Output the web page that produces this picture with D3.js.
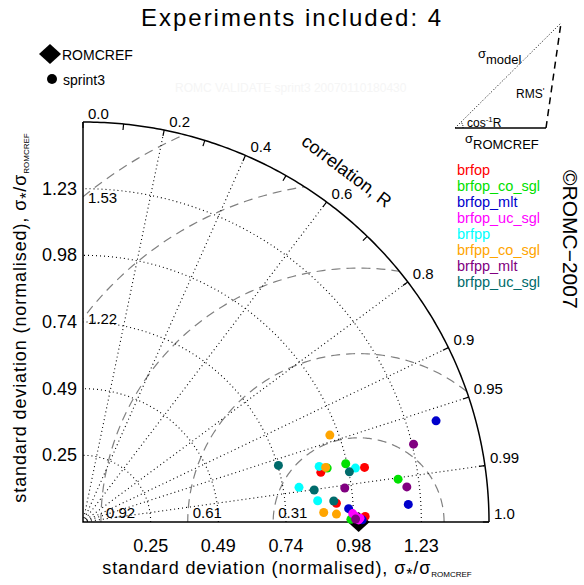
<!DOCTYPE html>
<html>
<head>
<meta charset="utf-8">
<script src="https://cdn.jsdelivr.net/npm/d3@7"></script>
<style>
  body { margin: 0; background: #fff; }
  text { font-family: "Liberation Sans", Arial, sans-serif; fill: #000; }
</style>
</head>
<body>
<div id="chart"></div>
<script>
// Series and their colours
var seriesNames = ["brfop", "brfop_co_sgl", "brfop_mlt", "brfop_uc_sgl", "brfpp", "brfpp_co_sgl", "brfpp_mlt", "brfpp_uc_sgl"];
var seriesColors = ["#ff0000", "#00e000", "#0000cc", "#ff00ff", "#00ffff", "#ffa500", "#800080", "#006b6b"];

// Normalised standard deviation of each experiment, per series
var stdValues = [
  [0.882, 1.041, 0.922, 1.024],
  [0.908, 0.977, 1.154, 0.972],
  [1.334, 1.182, 0.965, 1.013],
  [0.979, 1.000, 0.990, 1.005],
  [0.881, 1.008, 0.794, 0.855],
  [0.951, 0.903, 0.874, 0.920],
  [1.233, 1.182, 0.958, 0.989],
  [0.739, 0.984, 0.847, 0.913]
];
// Correlation with ROMCREF, per series
var corrValues = [
  [0.9783, 0.9812, 0.9972, 0.9998],
  [0.9758, 0.9756, 0.9906, 0.99995],
  [0.9602, 0.9985, 0.9987, 0.99997],
  [0.9995, 0.99997, 0.9998, 0.9999],
  [0.9726, 0.9804, 0.9870, 0.9958],
  [0.9417, 0.9749, 0.9992, 0.9995],
  [0.9726, 0.9940, 0.9914, 0.99994],
  [0.9594, 0.9822, 0.9903, 0.9964]
];

// Axis ticks
var stdTicks = [0.2455, 0.491, 0.7365, 0.982, 1.2275];
var stdTickLabels = ["0.25", "0.49", "0.74", "0.98", "1.23"];
var corrTicks = [0.0, 0.2, 0.4, 0.6, 0.8, 0.9, 0.95, 0.99, 1.0];
var corrTickLabels = ["0.0", "0.2", "0.4", "0.6", "0.8", "0.9", "0.95", "0.99", "1.0"];
var corrMinor = [0.1, 0.3, 0.5, 0.7];
// RMS circles as drawn, and their labels
var rmsValues = [0.31, 0.62, 0.935, 1.25, 1.56];
var rmsLabels = ["0.31", "0.61", "0.92", "1.22", "1.53"];
var refStd = 1.0;
var stdMax = 1.473;

var width = 584, height = 585;

var svg = d3.select("#chart")
  .append("svg")
  .attr("width", width)
  .attr("height", height);

// Scales (plot origin sits at bottom left of the quadrant)
var xScale = d3.scaleLinear().domain([0, stdMax]).range([83, 489]);
var yScale = d3.scaleLinear().domain([0, stdMax]).range([522, 122]);

function polar(s, r) {
  var a = Math.acos(r);
  return [s * Math.cos(a), s * Math.sin(a)];
}
function arcPoints(cx, rad, a0, a1) {
  var pts = [];
  for (var i = 0; i <= 180; i++) {
    var a = a0 + (a1 - a0) * i / 180;
    pts.push([cx + rad * Math.cos(a), rad * Math.sin(a)]);
  }
  return pts;
}
var line = d3.line()
  .x(function(d) { return xScale(d[0]); })
  .y(function(d) { return yScale(d[1]); });

// Clip to the quadrant
var sector = [[0, 0]].concat(arcPoints(0, stdMax, 0, Math.PI / 2));
svg.append("clipPath").attr("id", "quad")
  .append("path").attr("d", line(sector) + "Z");

var grid = svg.append("g").attr("clip-path", "url(#quad)");

// RMS difference circles round the reference
grid.selectAll("path.rms")
  .data(rmsValues)
  .enter()
  .append("path")
  .attr("class", "rms")
  .attr("d", function(d) { return line(arcPoints(refStd, d, 0, Math.PI)); })
  .style("fill", "none")
  .style("stroke", "#808080")
  .style("stroke-width", 1.2)
  .style("stroke-dasharray", "9,6");

// Standard deviation arcs
grid.selectAll("path.sd")
  .data(stdTicks)
  .enter()
  .append("path")
  .attr("class", "sd")
  .attr("d", function(d) { return line(arcPoints(0, d, 0, Math.PI / 2)); })
  .style("fill", "none")
  .style("stroke", "#000")
  .style("stroke-width", 1.1)
  .style("stroke-dasharray", "1,3");

// Correlation rays
grid.selectAll("path.ray")
  .data(corrTicks.filter(function(d) { return d > 0 && d < 1; }))
  .enter()
  .append("path")
  .attr("class", "ray")
  .attr("d", function(d) { return line([[0, 0], polar(stdMax, d)]); })
  .style("fill", "none")
  .style("stroke", "#000")
  .style("stroke-width", 1.1)
  .style("stroke-dasharray", "1,3");

// Axes and outer arc
svg.append("path")
  .attr("d", line([[0, stdMax], [0, 0], [stdMax, 0]]))
  .style("fill", "none").style("stroke", "#000").style("stroke-width", 1.5);
svg.append("path")
  .attr("d", line(arcPoints(0, stdMax, 0, Math.PI / 2)))
  .style("fill", "none").style("stroke", "#000").style("stroke-width", 1.5);

// Ticks on the outer arc
svg.selectAll("path.ctick")
  .data(corrTicks.concat(corrMinor))
  .enter()
  .append("path")
  .attr("class", "ctick")
  .attr("d", function(d) { return line([polar(stdMax, d), polar(stdMax * 0.985, d)]); })
  .style("stroke", "#000").style("stroke-width", 1.2);

svg.selectAll("text.clab")
  .data(corrTicks)
  .enter()
  .append("text")
  .attr("class", "clab")
  .attr("x", function(d) { return xScale(polar(stdMax, d)[0]) + 5; })
  .attr("y", function(d) { return yScale(polar(stdMax, d)[1]) - 3; })
  .style("font-size", "15px")
  .text(function(d, i) { return corrTickLabels[i]; });

// Standard deviation tick labels
svg.selectAll("text.xlab")
  .data(stdTicks)
  .enter()
  .append("text")
  .attr("x", function(d) { return xScale(d); })
  .attr("y", 552)
  .attr("text-anchor", "middle")
  .style("font-size", "18px")
  .text(function(d, i) { return stdTickLabels[i]; });

svg.selectAll("text.ylab")
  .data(stdTicks)
  .enter()
  .append("text")
  .attr("x", 77)
  .attr("y", function(d) { return yScale(d) + 6; })
  .attr("text-anchor", "end")
  .style("font-size", "18px")
  .text(function(d, i) { return stdTickLabels[i]; });

// RMS labels: along the bottom, or on the left axis for the big ones
svg.selectAll("text.rlab")
  .data(rmsValues)
  .enter()
  .append("text")
  .attr("x", function(d) {
    if (d < refStd) return xScale(refStd - d) + 5;
    return xScale(0) + 5;
  })
  .attr("y", function(d) {
    if (d < refStd) return yScale(0) - 4;
    return yScale(Math.sqrt(d * d - refStd * refStd)) + 6;
  })
  .style("font-size", "15px")
  .text(function(d, i) { return rmsLabels[i]; });

// Reference diamond
var diamond = "M0,-10L11,0L0,10L-11,0Z";
svg.append("path")
  .attr("d", diamond)
  .attr("transform", "translate(" + xScale(refStd) + "," + yScale(0) + ")")
  .style("fill", "#000");

// Experiments
seriesNames.forEach(function(name, si) {
  svg.selectAll("circle.s" + si)
    .data(stdValues[si].map(function(s, j) { return polar(s, corrValues[si][j]); }))
    .enter()
    .append("circle")
    .attr("class", "s" + si)
    .attr("cx", function(d) { return xScale(d[0]); })
    .attr("cy", function(d) { return yScale(d[1]); })
    .attr("r", 4.5)
    .style("fill", seriesColors[si]);
});

// Axis titles
var xt = svg.append("text")
  .attr("x", 287).attr("y", 574)
  .attr("text-anchor", "middle")
  .style("font-size", "18px")
  .style("letter-spacing", "0.9px");
xt.append("tspan").text("standard deviation (normalised), σ");
xt.append("tspan").attr("dy", 6).style("font-size", "16px").text("*");
xt.append("tspan").attr("dy", -6).text("/σ");
xt.append("tspan").attr("dy", 3).style("font-size", "8px").style("letter-spacing", "0px").text("ROMCREF");

var yt = svg.append("text")
  .attr("transform", "translate(26,318) rotate(-90)")
  .attr("text-anchor", "middle")
  .style("font-size", "18px")
  .style("letter-spacing", "0.9px");
yt.append("tspan").text("standard deviation (normalised), σ");
yt.append("tspan").attr("dy", 6).style("font-size", "16px").text("*");
yt.append("tspan").attr("dy", -6).text("/σ");
yt.append("tspan").attr("dy", 3).style("font-size", "8px").style("letter-spacing", "0px").text("ROMCREF");

svg.append("text")
  .attr("transform", "translate(343,176) rotate(37)")
  .attr("text-anchor", "middle")
  .style("font-size", "18px")
  .text("correlation, R");

// Title
svg.append("text")
  .attr("x", 292).attr("y", 26)
  .attr("text-anchor", "middle")
  .style("font-size", "24px")
  .style("letter-spacing", "2px")
  .text("Experiments included: 4");

svg.append("text")
  .attr("x", 175).attr("y", 92)
  .style("font-size", "12px")
  .style("fill", "#f5f5f5")
  .text("ROMC VALIDATE sprint3 20070110180430");

// Top-left legend
svg.append("path").attr("d", diamond).attr("transform", "translate(50,54)").style("fill", "#000");
svg.append("text").attr("x", 62).attr("y", 60).style("font-size", "14px").text("ROMCREF");
svg.append("circle").attr("cx", 52).attr("cy", 79).attr("r", 5).style("fill", "#000");
svg.append("text").attr("x", 63).attr("y", 85).style("font-size", "14px").text("sprint3");

// Key triangle
var key = svg.append("g");
key.append("line").attr("x1", 455).attr("y1", 128).attr("x2", 546).attr("y2", 128)
  .style("stroke", "#000").style("stroke-width", 1.5);
key.append("line").attr("x1", 546).attr("y1", 128).attr("x2", 561).attr("y2", 23)
  .style("stroke", "#000").style("stroke-width", 1.5).style("stroke-dasharray", "7,5");
key.append("line").attr("x1", 455).attr("y1", 128).attr("x2", 561).attr("y2", 23)
  .style("stroke", "#000").style("stroke-width", 1).style("stroke-dasharray", "1,2");
key.append("path").attr("d", "M463,128A8,8 0 0 0 461,122")
  .style("fill", "none").style("stroke", "#000").style("stroke-dasharray", "1,1");
var km = key.append("text").attr("x", 478).attr("y", 58).style("font-size", "13px");
km.append("tspan").text("σ");
km.append("tspan").attr("dy", 6).text("model");
var kr = key.append("text").attr("x", 516).attr("y", 98).style("font-size", "12px");
kr.append("tspan").text("RMS");
kr.append("tspan").attr("dy", -4).style("font-size", "9px").text("'");
var kc = key.append("text").attr("x", 467).attr("y", 127).style("font-size", "12px");
kc.append("tspan").text("cos");
kc.append("tspan").attr("dy", -5).style("font-size", "8px").text("-1");
kc.append("tspan").attr("dy", 5).text("R");
var ks = key.append("text").attr("x", 465).attr("y", 143).style("font-size", "13px");
ks.append("tspan").text("σ");
ks.append("tspan").attr("dy", 6).text("ROMCREF");

// Series legend
svg.selectAll("text.leg")
  .data(seriesNames)
  .enter()
  .append("text")
  .attr("class", "leg")
  .attr("x", 457)
  .attr("y", function(d, i) { return 175 + i * 16; })
  .style("font-size", "14.5px")
  .style("fill", function(d, i) { return seriesColors[i]; })
  .text(function(d) { return d; });

svg.append("text")
  .attr("transform", "translate(563,170) rotate(90)")
  .style("font-size", "21px")
  .text("©ROMC−2007");
</script>
</body>
</html>
